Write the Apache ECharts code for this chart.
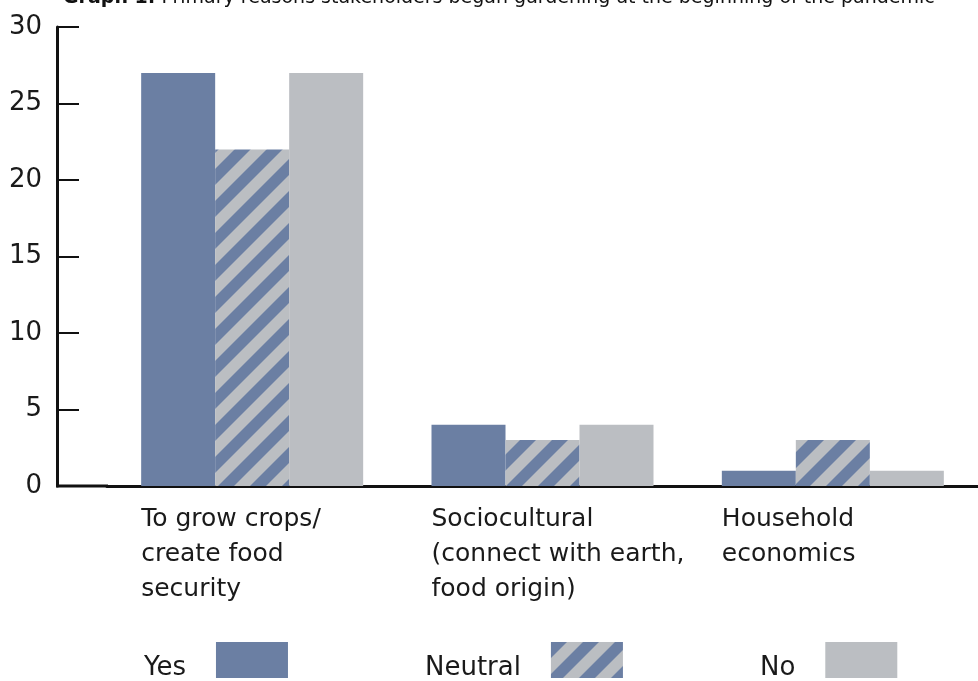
<!DOCTYPE html>
<html>
<head>
<meta charset="utf-8">
<script src="https://cdn.jsdelivr.net/npm/echarts@6/dist/echarts.min.js"></script>
<style>
html,body{margin:0;padding:0;background:#fff;}
#main{width:978px;height:681px;}
</style>
</head>
<body>
<div id="main"></div>
<script>
const categories = [
  "To grow crops/\ncreate food\nsecurity",
  "Sociocultural\n(connect with earth,\nfood origin)",
  "Household\neconomics"
];
const seriesNames = ["Yes", "Neutral", "No"];
const yesValues = [27, 4, 1];
const neutralValues = [22, 3, 3];
const noValues = [27, 4, 1];
const yTicks = [0, 5, 10, 15, 20, 25, 30];
const titleText = "Primary reasons stakeholders began gardening at the beginning of the pandemic";

const BLUE = "#6b7fa3";
const GRAY = "#bbbec2";

function makeStripe() {
  const W = 32, H = 32;
  const c = document.createElement("canvas");
  c.width = W; c.height = H;
  const ctx = c.getContext("2d");
  ctx.fillStyle = GRAY;
  ctx.fillRect(0, 0, W, H);
  ctx.fillStyle = BLUE;
  for (let k = -2; k <= 2; k++) {
    const x0 = k * W;
    ctx.beginPath();
    ctx.moveTo(x0, H);
    ctx.lineTo(x0 + W / 2, H);
    ctx.lineTo(x0 + W / 2 + W, 0);
    ctx.lineTo(x0 + W, 0);
    ctx.closePath();
    ctx.fill();
  }
  return c;
}
const stripe = { image: makeStripe(), repeat: "repeat" };

const FONT = "DejaVu Sans";
const chart = echarts.init(document.getElementById("main"), null, { renderer: "canvas" });

const option = {
  backgroundColor: "#fff",
  animation: false,
  title: {
    left: 58,
    top: -18,
    text: "{b|Graph 1:} " + titleText,
    textStyle: {
      fontFamily: FONT, fontSize: 19, fontWeight: "normal", color: "#111", lineHeight: 22,
      rich: { b: { fontFamily: FONT, fontSize: 19, fontWeight: "bold", color: "#111", lineHeight: 22 } }
    }
  },
  legend: {
    left: 139,
    top: 637,
    align: "right",
    icon: "rect",
    itemWidth: 72,
    itemHeight: 36,
    itemGap: 137,
    selectedMode: false,
    data: seriesNames,
    formatter: "{t|{name}}",
    textStyle: {
      fontFamily: FONT, fontSize: 26, color: "#1a1a1a",
      rich: { t: { fontFamily: FONT, fontSize: 26, color: "#1a1a1a", padding: [16, 25, 0, 0] } }
    }
  },
  grid: { left: 107, right: 0, top: 27, bottom: 195, containLabel: false },
  xAxis: {
    type: "category",
    data: categories,
    axisLine: { show: true, lineStyle: { color: "#111", width: 3 } },
    axisTick: { show: false },
    axisLabel: {
      interval: 0,
      margin: 16,
      formatter: function (v) { return v.split("\n").map(s => "{a|" + s + "}").join("\n"); },
      rich: { a: { width: 222, align: "left", fontFamily: FONT, fontSize: 25, color: "#1a1a1a", lineHeight: 35 } }
    }
  },
  yAxis: {
    type: "value",
    min: 0, max: 30, interval: 5,
    offset: 50,
    axisLine: { show: true, lineStyle: { color: "#111", width: 3 } },
    axisTick: { show: true, inside: true, length: 22, lineStyle: { color: "#111", width: 2 } },
    splitLine: { show: false },
    axisLabel: {
      margin: 15, fontFamily: FONT, fontSize: 26, color: "#1a1a1a",
      formatter: function (v) { return yTicks.indexOf(v) >= 0 ? String(v) : ""; }
    }
  },
  series: [
    { name: seriesNames[0], type: "bar", data: yesValues, barWidth: 74, barGap: "0%", itemStyle: { color: BLUE } },
    { name: seriesNames[1], type: "bar", data: neutralValues, barWidth: 74, barGap: "0%", itemStyle: { color: stripe } },
    { name: seriesNames[2], type: "bar", data: noValues, barWidth: 74, barGap: "0%", itemStyle: { color: GRAY } }
  ]
};
chart.setOption(option);

// extend the x axis baseline left to meet the offset y axis
const y0 = chart.convertToPixel({ yAxisIndex: 0 }, 0);
chart.setOption({
  graphic: [{
    type: "line",
    shape: { x1: 56, y1: y0, x2: 108, y2: y0 },
    style: { stroke: "#111", lineWidth: 3 },
    z: 10
  }]
});
</script>
</body>
</html>
